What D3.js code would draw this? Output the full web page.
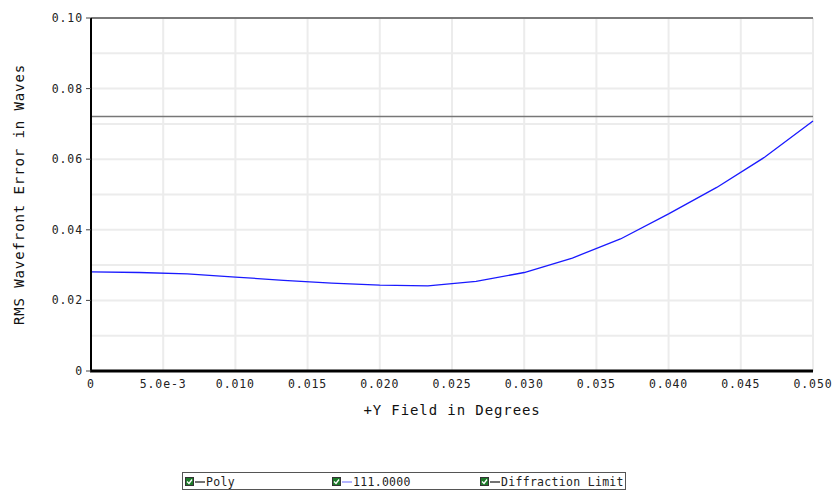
<!DOCTYPE html>
<html lang="en">
<head>
    <meta charset="UTF-8">
    <title>RMS Wavefront Error vs Field</title>
    <script src="https://d3js.org/d3.v7.min.js"></script>
    <style>
        body{
            margin: 0;
            background: #fff;
            font-family: "DejaVu Sans Mono", monospace;
        }
    </style>
</head>
<body>
<svg width="834" height="494"></svg>
<script>
    // field positions (degrees) and rms wavefront error (waves)
    const fieldDeg = [0, 0.003333, 0.006667, 0.01, 0.013333, 0.016667, 0.02, 0.023333,
                      0.026667, 0.03, 0.033333, 0.036667, 0.04, 0.043333, 0.046667, 0.05];
    const rmsPoly = [0.0281, 0.0279, 0.0275, 0.0266, 0.0257, 0.0249, 0.0243, 0.0241,
                     0.0254, 0.0279, 0.0320, 0.0374, 0.0445, 0.0520, 0.0606, 0.0708];
    const diffractionLimit = 0.0721;

    const xTicks = [0, 0.005, 0.01, 0.015, 0.02, 0.025, 0.03, 0.035, 0.04, 0.045, 0.05];
    const xTickLabels = ["0", "5.0e-3", "0.010", "0.015", "0.020", "0.025", "0.030", "0.035", "0.040", "0.045", "0.050"];
    const yGrid = [0, 0.01, 0.02, 0.03, 0.04, 0.05, 0.06, 0.07, 0.08, 0.09, 0.1];
    const yTicks = [0, 0.02, 0.04, 0.06, 0.08, 0.1];
    const yTickLabels = ["0", "0.02", "0.04", "0.06", "0.08", "0.10"];

    const legendNames = ["Poly", "111.0000", "Diffraction Limit"];
    const legendDash = ["#444", "#9a9aff", "#444"];

    const svg = d3.select('svg');
    const pLeft = 91, pRight = 813, pTop = 18, pBottom = 371;

    const x = d3.scaleLinear().domain([0, 0.05]).range([pLeft, pRight]);
    const y = d3.scaleLinear().domain([0, 0.1]).range([pBottom, pTop]);

    // grid
    svg.append('g').selectAll('line').data(xTicks).enter().append('line')
        .attr('x1', d => x(d)).attr('x2', d => x(d))
        .attr('y1', pTop).attr('y2', pBottom)
        .attr('stroke', '#ececec').attr('stroke-width', 2);
    svg.append('g').selectAll('line').data(yGrid).enter().append('line')
        .attr('x1', pLeft).attr('x2', pRight)
        .attr('y1', d => y(d)).attr('y2', d => y(d))
        .attr('stroke', '#ececec').attr('stroke-width', 2);

    // top frame line
    svg.append('line')
        .attr('x1', pLeft).attr('x2', pRight).attr('y1', y(0.1)).attr('y2', y(0.1))
        .attr('stroke', '#555').attr('stroke-width', 1.5);

    // diffraction limit
    svg.append('line')
        .attr('x1', pLeft).attr('x2', pRight)
        .attr('y1', y(diffractionLimit)).attr('y2', y(diffractionLimit))
        .attr('stroke', '#777').attr('stroke-width', 1.5);

    // curve
    const line = d3.line().x((d, i) => x(fieldDeg[i])).y(d => y(d));
    svg.append('path')
        .datum(rmsPoly)
        .attr('d', line)
        .attr('fill', 'none')
        .attr('stroke', '#1a1aff')
        .attr('stroke-width', 1.3);

    // axes lines
    svg.append('line')
        .attr('x1', pLeft).attr('x2', pLeft).attr('y1', pTop).attr('y2', pBottom + 1)
        .attr('stroke', '#000').attr('stroke-width', 2);
    svg.append('line')
        .attr('x1', pLeft - 1).attr('x2', pRight).attr('y1', pBottom).attr('y2', pBottom)
        .attr('stroke', '#000').attr('stroke-width', 3);

    // y ticks + labels
    svg.append('g').selectAll('line').data(yTicks).enter().append('line')
        .attr('x1', pLeft - 5).attr('x2', pLeft)
        .attr('y1', d => y(d)).attr('y2', d => y(d))
        .attr('stroke', '#444').attr('stroke-width', 1);
    svg.append('g').selectAll('text').data(yTicks).enter().append('text')
        .attr('x', 83).attr('y', d => y(d) + 4)
        .attr('text-anchor', 'end')
        .attr('font-size', 11.5).attr('letter-spacing', 0.9)
        .attr('fill', '#222')
        .text((d, i) => yTickLabels[i]);

    // x labels
    svg.append('g').selectAll('text').data(xTicks).enter().append('text')
        .attr('x', d => x(d)).attr('y', 388)
        .attr('text-anchor', 'middle')
        .attr('font-size', 11.5).attr('letter-spacing', 0.9)
        .attr('fill', '#222')
        .text((d, i) => xTickLabels[i]);

    // axis titles
    svg.append('text')
        .attr('x', (pLeft + pRight) / 2).attr('y', 415)
        .attr('text-anchor', 'middle')
        .attr('font-size', 14).attr('letter-spacing', 0.9)
        .attr('fill', '#111')
        .text('+Y Field in Degrees');
    svg.append('text')
        .attr('transform', `translate(24,${(pTop + pBottom) / 2}) rotate(-90)`)
        .attr('text-anchor', 'middle')
        .attr('font-size', 14).attr('letter-spacing', 0.9)
        .attr('fill', '#111')
        .text('RMS Wavefront Error in Waves');

    // legend
    const lg = svg.append('g');
    lg.append('rect')
        .attr('x', 182.5).attr('y', 472.5).attr('width', 443).attr('height', 17)
        .attr('fill', '#fff').attr('stroke', '#555').attr('stroke-width', 1);
    const itemX = [185, 332, 480];
    const items = lg.selectAll('g.item').data(legendNames).enter().append('g')
        .attr('transform', (d, i) => `translate(${itemX[i]},477)`);
    items.append('rect')
        .attr('x', 0.5).attr('y', 0.5).attr('width', 8).attr('height', 8)
        .attr('fill', '#1e7a2a').attr('stroke', '#333').attr('stroke-width', 1);
    items.append('path')
        .attr('d', 'M2,4.5 L4,6.5 L7,2.5')
        .attr('fill', 'none').attr('stroke', '#fff').attr('stroke-width', 1.3);
    items.append('line')
        .attr('x1', 10).attr('x2', 20).attr('y1', 5).attr('y2', 5)
        .attr('stroke', (d, i) => legendDash[i]).attr('stroke-width', 1.5);
    items.append('text')
        .attr('x', 21).attr('y', 9)
        .attr('font-size', 11.5).attr('letter-spacing', 0.3)
        .attr('fill', '#222')
        .text(d => d);
</script>
</body>
</html>
